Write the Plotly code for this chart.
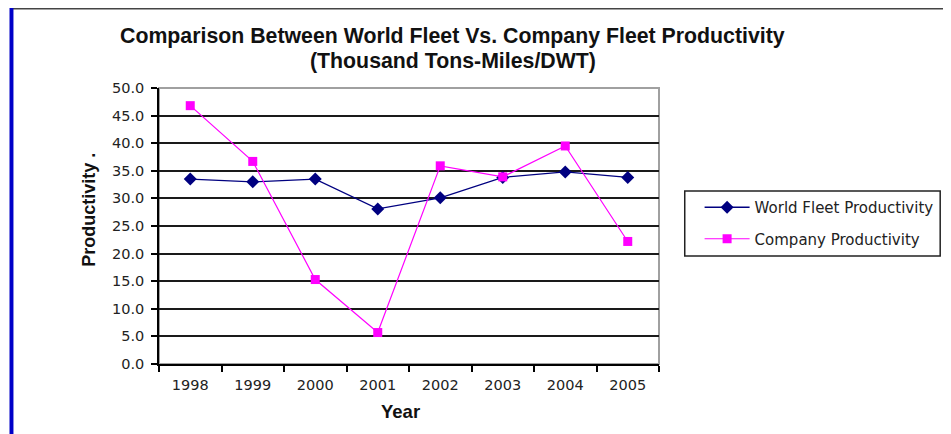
import plotly.graph_objects as go

years = ["1998", "1999", "2000", "2001", "2002", "2003", "2004", "2005"]
world_fleet = [33.5, 33.0, 33.5, 28.1, 30.1, 33.8, 34.8, 33.8]
company = [46.8, 36.7, 15.3, 5.7, 35.9, 33.9, 39.5, 22.2]
y_ticks = [0, 5, 10, 15, 20, 25, 30, 35, 40, 45, 50]
y_tick_text = [f"{v:.1f}" for v in y_ticks]

OFF = 8  # default page body margin
W, H = 951 - OFF, 434 - OFF
L, R, T, B = 159, 664, 88, 364  # plot area in screen pixels


def px(x):
    return (x - L) / (R - L)


def py(y):
    return (B - y) / (B - T)


TICK_FONT = dict(family="DejaVu Sans", size=14.5, color="#222")

fig = go.Figure()
fig.add_trace(go.Scatter(
    x=years, y=world_fleet, name="World Fleet Productivity",
    mode="lines+markers", legendgroup="a",
    line=dict(color="#000080", width=1.3),
    marker=dict(symbol="diamond", size=10, color="#000080"),
))
fig.add_trace(go.Scatter(
    x=years, y=company, name="Company Productivity",
    mode="lines+markers", legendgroup="b",
    line=dict(color="#FF00FF", width=1.2),
    marker=dict(symbol="square", size=9, color="#FF00FF"),
))

shapes = [
    # plot area border (gray, right/top)
    dict(type="rect", xref="x domain", yref="y domain", x0=0, x1=1, y0=0, y1=1,
         line=dict(color="#a0a0a0", width=2), layer="below"),
    # legend box
    dict(type="rect", xref="paper", yref="paper", x0=px(690), x1=px(948),
         y0=py(256), y1=py(191), line=dict(color="#222", width=1.5)),
    # spreadsheet artifacts: top line, blue left bar
    dict(type="line", xref="paper", yref="paper", x0=px(10), x1=px(951),
         y0=py(8.8), y1=py(8.8), line=dict(color="#444", width=1.6)),
    dict(type="rect", xref="paper", yref="paper", x0=px(8), x1=px(12),
         y0=py(434), y1=py(5), fillcolor="#0000c8", line=dict(width=0)),
]

annotations = [
    dict(text="<b>Comparison Between World Fleet Vs. Company Fleet Productivity</b>",
         x=px(455), y=py(36), xref="paper", yref="paper", showarrow=False,
         font=dict(family="Liberation Sans", size=21.3, color="#111"),
         xanchor="center", yanchor="middle"),
    dict(text="<b>(Thousand Tons-Miles/DWT)</b>",
         x=px(456), y=py(61.5), xref="paper", yref="paper", showarrow=False,
         font=dict(family="Liberation Sans", size=21.3, color="#111"),
         xanchor="center", yanchor="middle"),
    dict(text="<b>Productivity .</b>", textangle=-90,
         x=px(88), y=py(210), xref="paper", yref="paper", showarrow=False,
         font=dict(family="Liberation Sans", size=18, color="#111"),
         xanchor="center", yanchor="middle"),
    dict(text="<b>Year</b>",
         x=px(403), y=py(411), xref="paper", yref="paper", showarrow=False,
         font=dict(family="Liberation Sans", size=18.5, color="#111"),
         xanchor="center", yanchor="middle"),
]

fig.update_layout(
    width=W, height=H,
    margin=dict(l=L - OFF, r=W - (R - OFF), t=T - OFF, b=H - (B - OFF), pad=0),
    paper_bgcolor="white", plot_bgcolor="white",
    showlegend=True,
    legend=dict(x=px(705), y=py(191), xanchor="left", yanchor="top",
                bgcolor="rgba(0,0,0,0)", borderwidth=0,
                font=dict(family="DejaVu Sans", size=15, color="#222"),
                itemwidth=45, tracegroupgap=9),
    shapes=shapes,
    annotations=annotations,
    xaxis=dict(
        type="category", range=[-0.5, 7.5], showgrid=False,
        showline=True, linecolor="black", linewidth=1.5,
        ticks="outside", ticklen=6, tickcolor="black", tickwidth=1.5,
        tickson="boundaries", tickfont=TICK_FONT, ticklabelstandoff=7,
        zeroline=False,
    ),
    yaxis=dict(
        range=[0, 50], tickvals=y_ticks, ticktext=y_tick_text,
        showgrid=True, gridcolor="#1a1a1a", gridwidth=1.8,
        showline=True, linecolor="black", linewidth=1.5,
        ticks="outside", ticklen=6, tickcolor="black", tickwidth=1.5,
        tickfont=TICK_FONT, ticklabelstandoff=4, zeroline=False,
    ),
)

fig.write_html("out.html")
